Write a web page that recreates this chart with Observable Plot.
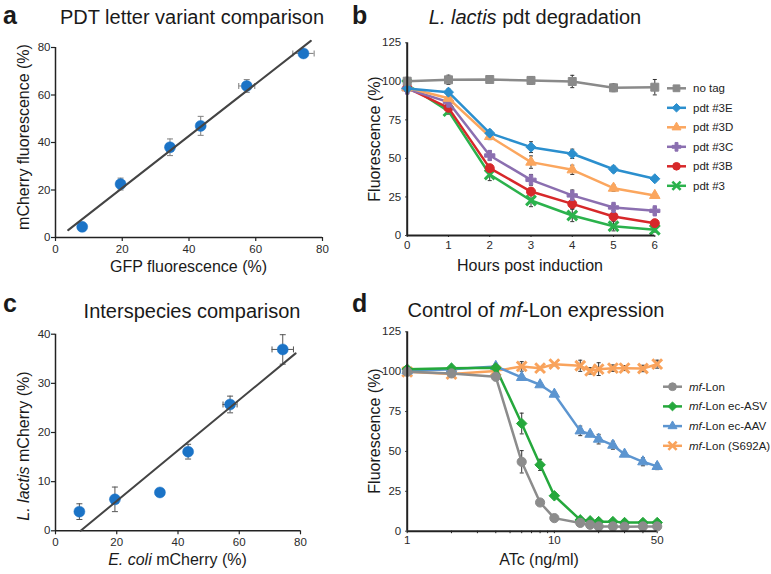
<!DOCTYPE html>
<html><head><meta charset="utf-8">
<script src="https://cdn.jsdelivr.net/npm/d3@7"></script>
<script src="https://cdn.jsdelivr.net/npm/@observablehq/plot@0.6"></script>
<style>
body{margin:0;background:#fff;}
#fig{position:relative;width:771px;height:574px;overflow:hidden;background:#fff;}
#fig svg{position:absolute;}
</style></head>
<body><div id="fig"></div>
<script>
// ---------- Panel a data ----------
const gfpA = [8, 19.5, 34.3, 43.5, 57.3, 74.3];
const gfpErrA = [0.5, 0.6, 0.6, 0.6, 2.4, 3.2];
const cherryA = [4.5, 22.5, 38, 47, 63.8, 77.5];
const cherryErrA = [0.8, 2.5, 3.5, 4, 2.7, 1.5];
const fitAx = [3.8, 76.5];
const fitAy = [3.1, 82.8];
const ticksA = [0, 20, 40, 60, 80];

// ---------- Panel b data ----------
const hoursB = [0, 1, 2, 3, 4, 5, 6];
const namesB = ["no tag", "pdt #3E", "pdt #3D", "pdt #3C", "pdt #3B", "pdt #3"];
const noTag  = [100.1, 101, 101.2, 100.6, 99.9, 95.8, 96.2];
const noTagE = [2.5, 3, 2, 2.5, 4, 2.5, 5];
const p3E  = [95.4, 93, 66.4, 57.3, 53, 43, 36.8];
const p3EE = [2.5, 2, 2, 3.5, 3, 2, 1.5];
const p3D  = [95.8, 89, 64.2, 47.6, 42.6, 30.7, 26];
const p3DE = [2.5, 2, 2, 4, 3, 2, 1.5];
const p3C  = [95, 86.5, 51.9, 36.1, 26, 18.2, 16];
const p3CE = [3, 2, 3, 3.5, 3.5, 2, 2];
const p3B  = [95.8, 82.8, 43.7, 28.5, 20.5, 12.3, 8];
const p3BE = [3, 2, 2, 2, 3, 2, 1.5];
const p3   = [97.8, 80.7, 39.6, 22.7, 13, 6, 3.7];
const p3Er = [3, 2, 4, 4, 4, 3, 1.5];
const ticksBx = [0, 1, 2, 3, 4, 5, 6];
const ticksBy = [0, 25, 50, 75, 100, 125];

// ---------- Panel c data ----------
const ecoliC = [7.8, 19.4, 34.1, 43.3, 57, 74.2];
const ecoliErrC = [0.4, 0.5, 0.5, 0.5, 2.3, 3.5];
const lactisC = [3.9, 6.4, 7.8, 16.1, 25.7, 36.9];
const lactisErrC = [1.6, 2.5, 0.7, 1.5, 1.7, 3];
const fitCx = [8.2, 78.4];
const fitCy = [0, 36.1];
const ticksCx = [0, 20, 40, 60, 80];
const ticksCy = [0, 10, 20, 30, 40];

// ---------- Panel d data ----------
const atcD = [1, 2, 4, 6, 8, 10, 15, 17.5, 20, 25, 30, 40, 50];
const namesD = ["mf-Lon", "mf-Lon ec-ASV", "mf-Lon ec-AAV", "mf-Lon (S692A)"];
const mfLon  = [99.9, 98.9, 96.8, 43.5, 18, 8.2, 5.2, 4, 3, 3, 2.8, 3, 3];
const mfLonE = [1, 1, 1.5, 7, 1.5, 1, 1, 1, 1, 1, 1, 1, 1];
const asv  = [101.6, 102.2, 102.4, 67.5, 41.6, 22.2, 7.1, 6.5, 6, 6, 5.4, 5.4, 5.4];
const asvE = [1, 1, 1, 6.5, 3.5, 1.5, 1, 1, 1, 1, 1, 1, 1];
const aav  = [100.5, 101.6, 103.3, 96.4, 91.8, 85.9, 62.9, 60.8, 57.7, 53.9, 48.3, 43.5, 40.6];
const aavE = [1, 1, 1, 1.5, 1, 1, 3, 1.5, 3, 2.5, 1, 2.5, 2];
const s692a  = [99.9, 98.5, 100.5, 103.3, 102.2, 104.7, 103.7, 100.5, 101.6, 102.2, 102.2, 102, 104.7];
const s692aE = [1, 1, 1, 3, 1, 1, 3.5, 2, 4, 2, 1.5, 2, 2.5];
const ticksDx = [1, 10, 50];
const minorDx = [2, 3, 4, 5, 6, 7, 8, 9, 20, 30, 40];
const ticksDy = [0, 25, 50, 75, 100, 125];

// ---------- styling helpers ----------
const FONT = "Liberation Sans, Arial, Helvetica, sans-serif";
const AXIS = "#222";
const fmt = d => String(d);
const diamondSym = {draw(ctx, size) { const r = Math.sqrt(size / 2); ctx.moveTo(0, -r); ctx.lineTo(r, 0); ctx.lineTo(0, r); ctx.lineTo(-r, 0); ctx.closePath(); }};
const hcap = {draw(ctx, size) { const w = Math.sqrt(size / Math.PI); ctx.moveTo(-w, 0); ctx.lineTo(w, 0); }};
const vcap = {draw(ctx, size) { const w = Math.sqrt(size / Math.PI); ctx.moveTo(0, -w); ctx.lineTo(0, w); }};
const baseStyle = {background: "transparent", overflow: "visible", fontFamily: FONT, fontSize: "11.5px", color: "#2a2a2a"};

function rows(xs, ys, es, xes) {
  return xs.map((x, i) => ({x, y: ys[i], e: es ? es[i] : 0, xe: xes ? xes[i] : 0}));
}
function errMarks(data, color, capR, sw) {
  return [
    Plot.ruleX(data, {x: "x", y1: d => d.y - d.e, y2: d => d.y + d.e, stroke: color, strokeWidth: sw}),
    Plot.dot(data, {x: "x", y: d => d.y - d.e, symbol: hcap, r: capR, fill: "none", stroke: color, strokeWidth: sw}),
    Plot.dot(data, {x: "x", y: d => d.y + d.e, symbol: hcap, r: capR, fill: "none", stroke: color, strokeWidth: sw})
  ];
}
function xErrMarks(data, color, capR, sw) {
  return [
    Plot.ruleY(data, {y: "y", x1: d => d.x - d.xe, x2: d => d.x + d.xe, stroke: color, strokeWidth: sw}),
    Plot.dot(data, {y: "y", x: d => d.x - d.xe, symbol: vcap, r: capR, fill: "none", stroke: color, strokeWidth: sw}),
    Plot.dot(data, {y: "y", x: d => d.x + d.xe, symbol: vcap, r: capR, fill: "none", stroke: color, strokeWidth: sw})
  ];
}
function place(svg, left, top) { svg.style.left = left + "px"; svg.style.top = top + "px"; document.getElementById("fig").appendChild(svg); }

// ---------- Panel a ----------
const dataA = rows(gfpA, cherryA, cherryErrA, gfpErrA);
const fitA = fitAx.map((x, i) => ({x, y: fitAy[i]}));
place(Plot.plot({
  width: 385, height: 287, marginLeft: 55, marginRight: 63, marginTop: 47, marginBottom: 50,
  style: baseStyle,
  x: {domain: [0, 80], axis: null}, y: {domain: [0, 80], axis: null},
  marks: [
    Plot.axisX({ticks: ticksA, tickFormat: fmt, tickSize: 4, tickPadding: 3.5, label: null, stroke: AXIS, strokeWidth: 1.2}),
    Plot.axisY({ticks: ticksA, tickFormat: fmt, tickSize: 4, tickPadding: 1, label: null, stroke: AXIS, strokeWidth: 1.2}),
    Plot.ruleY([0], {stroke: AXIS, strokeWidth: 1.5}),
    Plot.ruleX([0], {stroke: AXIS, strokeWidth: 1.5}),
    ...errMarks(dataA, "#8a8a8a", 3, 1.1),
    ...xErrMarks(dataA.filter(d => d.xe > 1), "#8a8a8a", 3, 1.1),
    Plot.dot(dataA, {x: "x", y: "y", r: 5.5, fill: "#1b73c6", stroke: "#1b73c6", strokeWidth: 0.5}),
    Plot.line(fitA, {x: "x", y: "y", stroke: "#444", strokeWidth: 2})
  ]
}), 0, 0);

// ---------- Panel b ----------
const seriesB = [
  {name: namesB[0], v: noTag, e: noTagE, color: "#8a8a8a", sym: d3.symbolSquare, r: 4.5},
  {name: namesB[1], v: p3E, e: p3EE, color: "#2b8fce", sym: diamondSym, r: 4},
  {name: namesB[2], v: p3D, e: p3DE, color: "#fba65e", sym: d3.symbolTriangle, r: 3.9},
  {name: namesB[3], v: p3C, e: p3CE, color: "#8b6fb0", sym: d3.symbolCross, r: 4.3},
  {name: namesB[4], v: p3B, e: p3BE, color: "#d7282a", sym: d3.symbolCircle, r: 4.5},
  {name: namesB[5], v: p3, e: p3Er, color: "#2bb24c", sym: d3.symbolTimes, r: 4.5, stroked: true}
];
function seriesMarks(series, xs, lw) {
  const m = [];
  series.forEach(s => m.push(...errMarks(rows(xs, s.v, s.e), "#333", 2, 1)));
  series.slice().reverse().forEach(s => {
    const d = rows(xs, s.v, s.e);
    m.push(Plot.line(d, {x: "x", y: "y", stroke: s.color, strokeWidth: lw}));
    m.push(Plot.dot(d, {x: "x", y: "y", symbol: s.sym, r: s.r, fill: s.stroked ? "none" : s.color, stroke: s.color, strokeWidth: s.stroked ? 3 : 1}));
  });
  return m;
}
place(Plot.plot({
  width: 386, height: 287, marginLeft: 21.7, marginRight: 116.7, marginTop: 42.3, marginBottom: 52,
  style: baseStyle,
  x: {domain: [0, 6], axis: null}, y: {domain: [0, 125], axis: null},
  marks: [
    Plot.axisX({ticks: ticksBx, tickFormat: fmt, tickSize: 2, tickPadding: 3.5, label: null, stroke: AXIS}),
    Plot.axisY({ticks: ticksBy, tickFormat: fmt, tickSize: 1.5, tickPadding: 4.5, label: null, stroke: AXIS}),
    ...seriesMarks(seriesB, hoursB, 2.5),
    Plot.ruleY([0], {stroke: AXIS, strokeWidth: 2}),
    Plot.ruleX([0], {stroke: AXIS, strokeWidth: 2})
  ]
}), 385, 0);

// ---------- Panel c ----------
const dataC = rows(ecoliC, lactisC, lactisErrC, ecoliErrC);
const fitC = fitCx.map((x, i) => ({x, y: fitCy[i]}));
place(Plot.plot({
  width: 385, height: 287, marginLeft: 55, marginRight: 85, marginTop: 46.7, marginBottom: 43.7,
  style: baseStyle,
  x: {domain: [0, 80], axis: null}, y: {domain: [0, 40], axis: null},
  marks: [
    Plot.axisX({ticks: ticksCx, tickFormat: fmt, tickSize: 4, tickPadding: 3.5, label: null, stroke: AXIS, strokeWidth: 1.2}),
    Plot.axisY({ticks: ticksCy, tickFormat: fmt, tickSize: 4, tickPadding: 1, label: null, stroke: AXIS, strokeWidth: 1.2}),
    Plot.ruleY([0], {stroke: AXIS, strokeWidth: 1.5}),
    Plot.ruleX([0], {stroke: AXIS, strokeWidth: 1.5}),
    ...errMarks(dataC, "#555", 3, 1),
    ...xErrMarks(dataC.filter(d => d.xe > 1), "#555", 3, 1),
    Plot.dot(dataC, {x: "x", y: "y", r: 5.5, fill: "#1b73c6", stroke: "#1b73c6", strokeWidth: 0.5}),
    Plot.line(fitC, {x: "x", y: "y", stroke: "#444", strokeWidth: 2})
  ]
}), 0, 287);

// ---------- Panel d ----------
const seriesD = [
  {name: namesD[0], v: mfLon, e: mfLonE, color: "#8c8c8c", sym: d3.symbolCircle, r: 4.6},
  {name: namesD[1], v: asv, e: asvE, color: "#25a83c", sym: diamondSym, r: 4.2},
  {name: namesD[2], v: aav, e: aavE, color: "#5c95d0", sym: d3.symbolTriangle, r: 3.9},
  {name: namesD[3], v: s692a, e: s692aE, color: "#f9a35c", sym: d3.symbolTimes, r: 4.5, stroked: true}
];
place(Plot.plot({
  width: 386, height: 287, marginLeft: 21.7, marginRight: 114.3, marginTop: 44.3, marginBottom: 43.3,
  style: baseStyle,
  x: {type: "log", domain: [1, 50], axis: null}, y: {domain: [0, 125], axis: null},
  marks: [
    Plot.axisX({ticks: ticksDx, tickFormat: fmt, tickSize: 2.5, tickPadding: 2, label: null, stroke: AXIS}),
    Plot.axisX({ticks: minorDx, tickFormat: () => "", tickSize: 2.5, label: null, stroke: AXIS}),
    Plot.axisY({ticks: ticksDy, tickFormat: fmt, tickSize: 1.5, tickPadding: 4.5, label: null, stroke: AXIS}),
    ...seriesMarks(seriesD, atcD, 2.5),
    Plot.ruleY([0], {stroke: AXIS, strokeWidth: 2}),
    Plot.ruleX([1], {stroke: AXIS, strokeWidth: 2})
  ]
}), 385, 287);

// ---------- text overlay (titles, labels, legends) ----------
const ov = d3.select("#fig").append("svg").attr("width", 771).attr("height", 574)
  .style("left", "0px").style("top", "0px").style("pointer-events", "none")
  .attr("font-family", FONT).attr("fill", "#1a1a1a");
function txt(x, y, parts, size, opts = {}) {
  const t = ov.append("text").attr("x", x).attr("y", y).attr("font-size", size)
    .attr("text-anchor", opts.anchor || "middle");
  if (opts.bold) t.attr("font-weight", "bold");
  if (opts.rotate) t.attr("transform", `rotate(-90 ${x} ${y})`);
  parts.forEach(p => {
    const s = t.append("tspan").text(typeof p === "string" ? p : p[0]);
    if (typeof p !== "string") s.attr("font-style", "italic");
  });
  return t;
}
// panel letters
txt(3, 24, ["a"], 25, {anchor: "start", bold: true});
txt(352, 24, ["b"], 25, {anchor: "start", bold: true});
txt(3, 312, ["c"], 25, {anchor: "start", bold: true});
txt(352, 312, ["d"], 25, {anchor: "start", bold: true});
// titles
txt(192, 24, ["PDT letter variant comparison"], 20);
txt(535, 23.5, [["L. lactis"], " pdt degradation"], 20);
txt(192, 317.5, ["Interspecies comparison"], 20);
txt(536, 317, ["Control of ", ["mf"], "-Lon expression"], 20);
// axis labels
txt(188.5, 272, ["GFP fluorescence (%)"], 16);
txt(29, 137, ["mCherry fluorescence (%)"], 16, {rotate: true});
txt(530, 271, ["Hours post induction"], 16);
txt(380, 139, ["Fluorescence (%)"], 16, {rotate: true});
txt(177.5, 565, [["E. coli"], " mCherry (%)"], 16);
txt(28.5, 446, [["L. lactis"], " mCherry (%)"], 16, {rotate: true});
txt(539, 565, ["ATc (ng/ml)"], 16);
txt(380, 431, ["Fluorescence (%)"], 16, {rotate: true});

// legends
function legend(series, x0, y0, step, labels) {
  series.forEach((s, i) => {
    const y = y0 + i * step;
    ov.append("line").attr("x1", x0).attr("x2", x0 + 19).attr("y1", y).attr("y2", y)
      .attr("stroke", s.color).attr("stroke-width", 2.5);
    const size = Math.PI * (s.r * 0.85) ** 2;
    ov.append("path").attr("d", d3.symbol(s.sym, size)())
      .attr("transform", `translate(${x0 + 9.5},${y})`)
      .attr("fill", s.stroked ? "none" : s.color).attr("stroke", s.color)
      .attr("stroke-width", s.stroked ? 2.6 : 1);
    txt(x0 + 26, y + 4, labels[i], 11.5, {anchor: "start"}).attr("fill", "#222");
  });
}
legend(seriesB, 667, 88.3, 19.5, namesB.map(n => [n]));
legend(seriesD, 663, 386.7, 19.7, namesD.map(n => [["mf"], n.slice(2)]));
</script>
</body></html>
